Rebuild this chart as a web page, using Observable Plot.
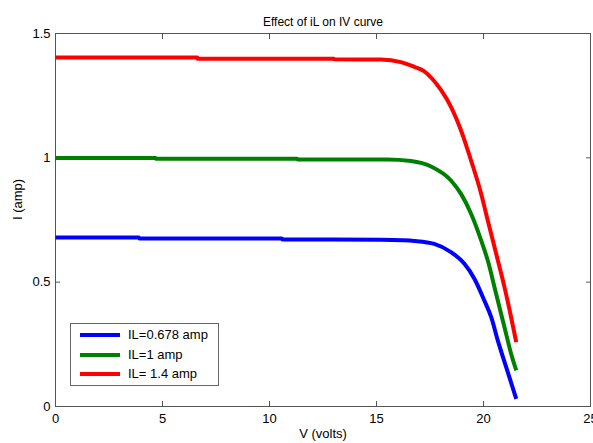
<!DOCTYPE html>
<html><head><meta charset="utf-8">
<script src="https://cdn.jsdelivr.net/npm/d3@7"></script>
<script src="https://cdn.jsdelivr.net/npm/@observablehq/plot@0.6"></script>
<style>
body{margin:0;background:#fff;}
#wrap{position:relative;width:593px;height:443px;font-family:"Liberation Sans",Arial,sans-serif;}
#legend{position:absolute;left:70px;top:323px;width:147px;height:61px;border:1px solid #666;background:#fff;font-size:13px;}
#legend .row{position:absolute;left:0;height:18px;line-height:18px;white-space:nowrap;}
#legend .sw{position:absolute;left:9px;top:7px;width:40px;height:4px;}
#legend .lb{position:absolute;left:57px;top:0;}
</style>
</head><body>
<div id="wrap"></div>
<script>
const title = "Effect of iL on IV curve";
const xLabel = "V (volts)";
const yLabel = "I (amp)";
const xTicks = [0, 5, 10, 15, 20, 25];
const yTicks = [0, 0.5, 1, 1.5];
const seriesNames = ["IL=0.678 amp", "IL=1 amp", "IL= 1.4 amp"];
const seriesColors = ["#0000ff", "#008000", "#ff0000"];

const V_blue = [0, 3.9, 3.92, 10.58, 10.6, 15.21, 16.2, 16.77, 17.70, 18.48, 19.11, 19.58, 20.04, 20.36, 20.67, 21.06, 21.53];
const I_blue = [0.680, 0.680, 0.676, 0.676, 0.672, 0.671, 0.669, 0.666, 0.654, 0.621, 0.574, 0.513, 0.426, 0.359, 0.265, 0.158, 0.031];

const V_green = [0, 4.68, 4.70, 11.3, 11.32, 15.5, 16.61, 17.55, 18.48, 18.95, 19.42, 19.89, 20.20, 20.59, 20.98, 21.29, 21.53];
const I_green = [0.999, 0.999, 0.996, 0.996, 0.993, 0.993, 0.987, 0.965, 0.909, 0.855, 0.775, 0.668, 0.587, 0.453, 0.319, 0.212, 0.145];

const V_red = [0, 6.63, 6.65, 13.0, 13.02, 15.21, 16.14, 16.77, 17.2, 17.6, 18.02, 18.48, 18.95, 19.42, 19.89, 20.20, 20.59, 20.98, 21.29, 21.53];
const I_red = [1.403, 1.403, 1.398, 1.398, 1.396, 1.395, 1.385, 1.366, 1.350, 1.318, 1.272, 1.205, 1.110, 0.989, 0.856, 0.748, 0.615, 0.480, 0.359, 0.259];

const series = [[V_blue, I_blue], [V_green, I_green], [V_red, I_red]];
const rows = [];
series.forEach(([vs, is], k) => vs.forEach((v, i) => rows.push({s: seriesNames[k], v, i: is[i]})));

const fontFamily = '"Liberation Sans", Arial, sans-serif';
const chart = Plot.plot({
  width: 593, height: 443,
  marginLeft: 55, marginRight: 3, marginTop: 33, marginBottom: 37,
  style: {fontFamily, fontSize: "13px", color: "#000", background: "#fff"},
  x: {domain: [0, 25], label: null},
  y: {domain: [0, 1.5], label: null},
  color: {domain: seriesNames, range: seriesColors},
  marks: [
    Plot.frame({stroke: "#555"}),
    Plot.axisX({ticks: xTicks, tickSize: -5, tickPadding: 12, tickFormat: d => String(d), stroke: "#555", fill: "#000"}),
    Plot.axisX({anchor: "top", ticks: xTicks, tickSize: -5, tickFormat: () => "", stroke: "#555", label: null}),
    Plot.axisY({ticks: yTicks, tickSize: -5, tickPadding: 10, tickFormat: d => String(d), stroke: "#555", fill: "#000"}),
    Plot.axisY({anchor: "right", ticks: yTicks, tickSize: -5, tickFormat: () => "", stroke: "#555", label: null}),
    Plot.line(rows, {x: "v", y: "i", z: "s", stroke: "s", strokeWidth: 4, curve: "monotone-x", strokeLinejoin: "round", strokeLinecap: "butt"}),
    Plot.text([title], {frameAnchor: "top", dy: -16, fontSize: 12, fill: "#000"}),
    Plot.text([xLabel], {frameAnchor: "bottom", dy: 31, fontSize: 13, fill: "#000"}),
    Plot.text([yLabel], {frameAnchor: "left", dx: -38, rotate: -90, fontSize: 13, fill: "#000"})
  ]
});
const wrap = document.getElementById("wrap");
wrap.appendChild(chart);
const leg = document.createElement("div");
leg.id = "legend";
seriesNames.forEach((n, k) => {
  const r = document.createElement("div");
  r.className = "row";
  r.style.top = (2 + k * 19.5) + "px";
  r.innerHTML = `<span class="sw" style="background:${seriesColors[k]}"></span><span class="lb"></span>`;
  r.querySelector(".lb").textContent = n;
  leg.appendChild(r);
});
wrap.appendChild(leg);
</script>
</body></html>
